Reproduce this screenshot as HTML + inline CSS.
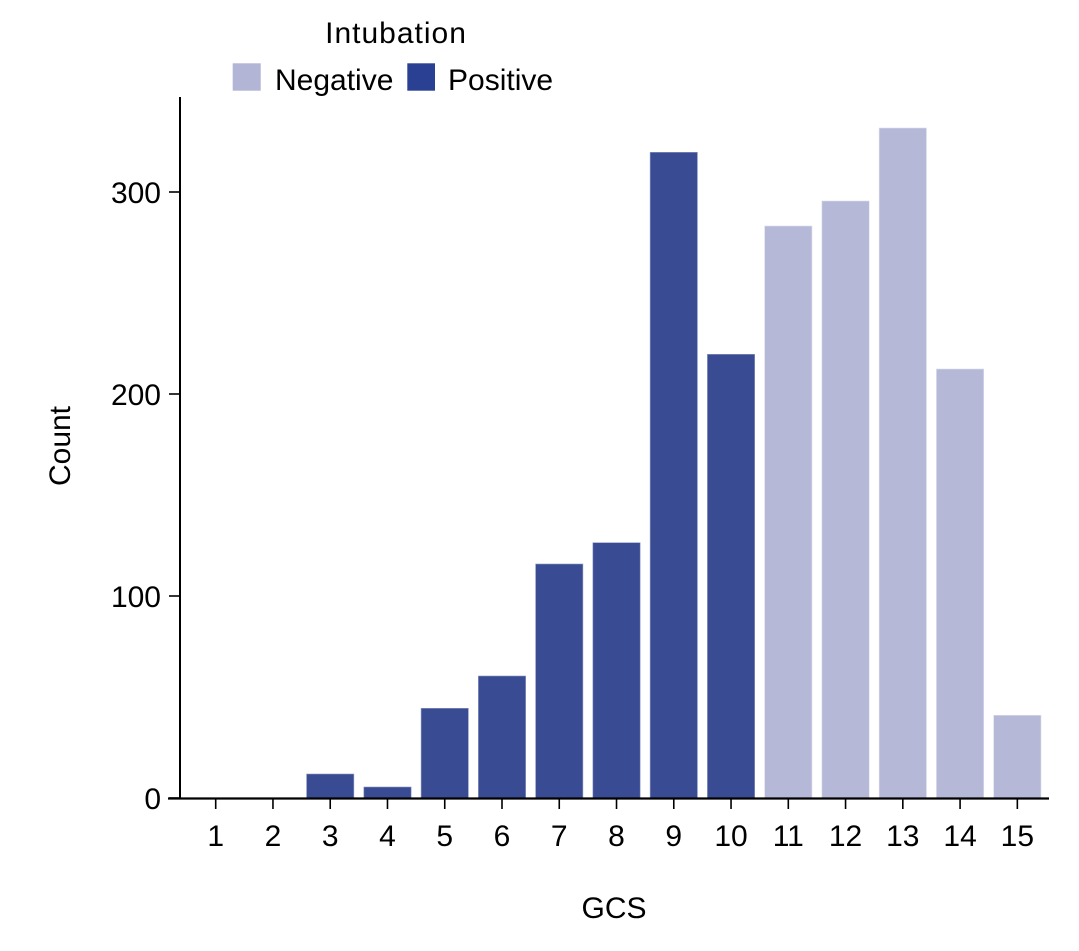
<!DOCTYPE html>
<html>
<head>
<meta charset="utf-8">
<style>
  html, body { margin: 0; padding: 0; background: #ffffff; }
  svg { display: block; }
  text { font-family: "Liberation Sans", "DejaVu Sans", sans-serif; fill: #000; }
</style>
</head>
<body>
<svg width="1079" height="951" viewBox="0 0 1079 951" xmlns="http://www.w3.org/2000/svg">
  <rect x="0" y="0" width="1079" height="951" fill="#ffffff"/>

  <!-- Bars: Positive -->
  <g fill="#394c93" stroke="#8f9ac2" stroke-width="0.6">
    <rect x="306.57" y="774" width="47.3" height="24"/>
    <rect x="363.83" y="787" width="47.3" height="11"/>
    <rect x="421.09" y="708.3" width="47.3" height="89.7"/>
    <rect x="478.35" y="676" width="47.3" height="122"/>
    <rect x="535.61" y="564" width="47.3" height="234"/>
    <rect x="592.87" y="542.7" width="47.3" height="255.3"/>
    <rect x="650.13" y="152.3" width="47.3" height="645.7"/>
    <rect x="707.39" y="354.3" width="47.3" height="443.7"/>
  </g>
  <!-- Bars: Negative -->
  <g fill="#b5b8d6" stroke="#dcdeee" stroke-width="0.6">
    <rect x="764.65" y="226" width="47.3" height="572"/>
    <rect x="821.91" y="201" width="47.3" height="597"/>
    <rect x="879.17" y="128" width="47.3" height="670"/>
    <rect x="936.43" y="369" width="47.3" height="429"/>
    <rect x="993.69" y="715.3" width="47.3" height="82.7"/>
  </g>

  <!-- Axes -->
  <line x1="180" y1="97" x2="180" y2="799" stroke="#000" stroke-width="2"/>
  <line x1="168" y1="798.5" x2="1049" y2="798.5" stroke="#000" stroke-width="2.2"/>

  <!-- Y ticks -->
  <g stroke="#000" stroke-width="1.6">
    <line x1="169" y1="798" x2="180" y2="798"/>
    <line x1="169" y1="596" x2="180" y2="596"/>
    <line x1="169" y1="394" x2="180" y2="394"/>
    <line x1="169" y1="192" x2="180" y2="192"/>
  </g>
  <g font-size="30" text-anchor="end">
    <text x="161" y="809">0</text>
    <text x="161" y="607">100</text>
    <text x="161" y="405">200</text>
    <text x="161" y="203">300</text>
  </g>

  <!-- X ticks -->
  <g stroke="#000" stroke-width="1.6">
    <line x1="215.7" y1="798" x2="215.7" y2="809"/>
    <line x1="272.96" y1="798" x2="272.96" y2="809"/>
    <line x1="330.22" y1="798" x2="330.22" y2="809"/>
    <line x1="387.48" y1="798" x2="387.48" y2="809"/>
    <line x1="444.74" y1="798" x2="444.74" y2="809"/>
    <line x1="502" y1="798" x2="502" y2="809"/>
    <line x1="559.26" y1="798" x2="559.26" y2="809"/>
    <line x1="616.52" y1="798" x2="616.52" y2="809"/>
    <line x1="673.78" y1="798" x2="673.78" y2="809"/>
    <line x1="731.04" y1="798" x2="731.04" y2="809"/>
    <line x1="788.3" y1="798" x2="788.3" y2="809"/>
    <line x1="845.56" y1="798" x2="845.56" y2="809"/>
    <line x1="902.82" y1="798" x2="902.82" y2="809"/>
    <line x1="960.08" y1="798" x2="960.08" y2="809"/>
    <line x1="1017.34" y1="798" x2="1017.34" y2="809"/>
  </g>
  <g font-size="30" text-anchor="middle">
    <text x="215.7" y="846">1</text>
    <text x="272.96" y="846">2</text>
    <text x="330.22" y="846">3</text>
    <text x="387.48" y="846">4</text>
    <text x="444.74" y="846">5</text>
    <text x="502" y="846">6</text>
    <text x="559.26" y="846">7</text>
    <text x="616.52" y="846">8</text>
    <text x="673.78" y="846">9</text>
    <text x="731.04" y="846">10</text>
    <text x="788.3" y="846">11</text>
    <text x="845.56" y="846">12</text>
    <text x="902.82" y="846">13</text>
    <text x="960.08" y="846">14</text>
    <text x="1017.34" y="846">15</text>
  </g>

  <!-- Axis labels -->
  <text x="614" y="918" font-size="30" text-anchor="middle">GCS</text>
  <text x="0" y="0" font-size="30" text-anchor="middle" transform="translate(70,446) rotate(-90)">Count</text>

  <!-- Legend -->
  <text x="396" y="43" font-size="30" text-anchor="middle" letter-spacing="1">Intubation</text>
  <rect x="232.7" y="63.3" width="28" height="27.4" fill="#b3b5d6"/>
  <text x="275" y="90" font-size="30">Negative</text>
  <rect x="407.3" y="63.3" width="27.7" height="27.4" fill="#2a4193"/>
  <text x="448" y="90" font-size="30">Positive</text>
</svg>
</body>
</html>
